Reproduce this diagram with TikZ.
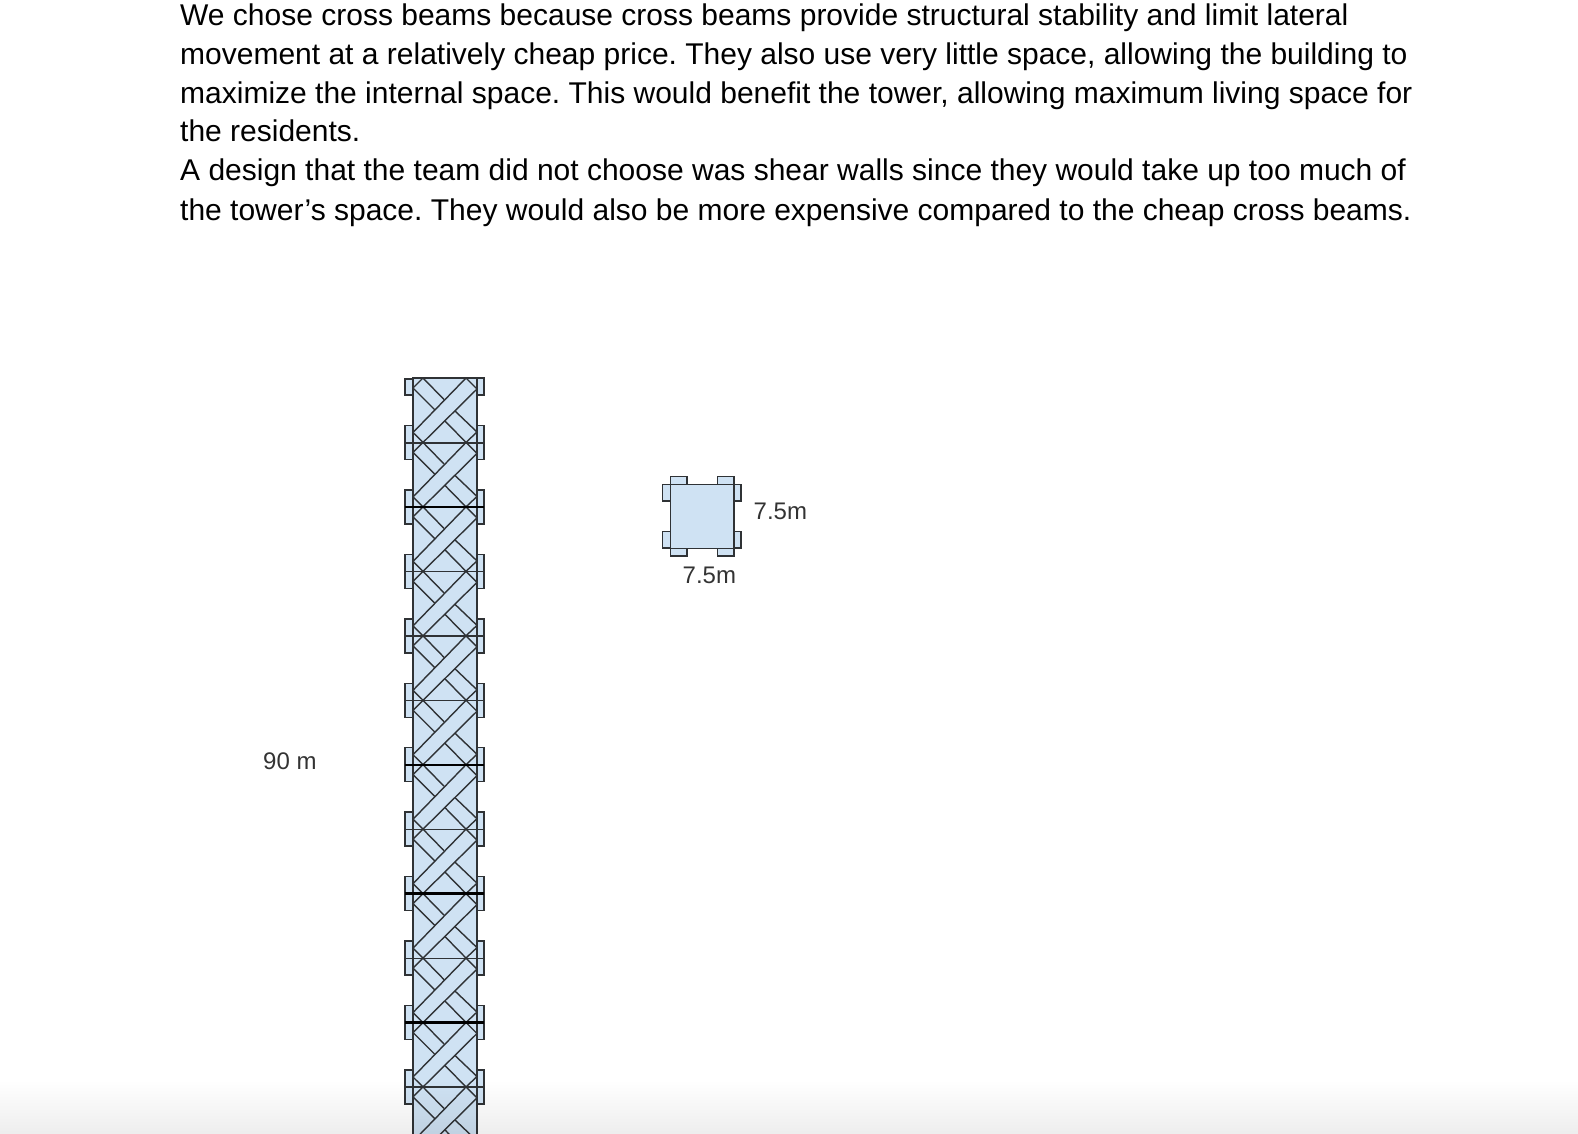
\documentclass[tikz,border=0pt]{standalone}
\usepackage{fontspec}
\setmainfont{Liberation Sans}
\usetikzlibrary{fadings}
\definecolor{panelblue}{HTML}{CFE2F3}
\definecolor{edgegrey}{HTML}{2F3235}
\definecolor{labelgrey}{HTML}{333333}
\tikzset{
    body/.style={font=\fontsize{30}{36}\selectfont\frenchspacing, anchor=base west, inner sep=0pt},
    dimlabel/.style={font=\fontsize{24}{28}\selectfont, text=labelgrey, anchor=base west, inner sep=0pt},
    plate/.style={fill=panelblue, draw=edgegrey, line width=1.4pt},
    brace/.style={draw=edgegrey, line width=1.4pt},
    beam/.style={draw=edgegrey, line width=1.6pt},
    heavybeam/.style={draw=black, line width=2.4pt}
}
\begin{document}
\begin{tikzpicture}[x=1pt, y=-1pt]
    \clip (0, 0) rectangle (1578, 1134);

    % Paragraphs
    \node[body] (lineA) at (180, 26) {We chose cross beams because cross beams provide structural stability and limit lateral};
    \node[body] (lineB) at (180, 65) {movement at a relatively cheap price. They also use very little space, allowing the building to};
    \node[body] (lineC) at (180, 104) {maximize the internal space. This would benefit the tower, allowing maximum living space for};
    \node[body] (lineD) at (180, 142) {the residents.};
    \node[body] (lineE) at (180, 181) {A design that the team did not choose was shear walls since they would take up too much of};
    \node[body] (lineF) at (180, 220) {the tower’s space. They would also be more expensive compared to the cheap cross beams.};

    % Tower
    \fill[panelblue] (413, 378) rectangle (477, 1140);
    \foreach \i in {0,...,11} {
        \begin{scope}[shift={(413, 378 + 64.45*\i)}]
            \draw[brace] (0, 54.5) -- (53, 0) -- (64, 11) -- (10, 64.45) -- cycle;
            \draw[brace] (22, 32) -- (0, 10) -- (10, 0) -- (31, 21.5);
            \draw[brace] (32, 43) -- (53, 64.45) -- (64, 54) -- (42, 33);
        \end{scope}
    }
    \draw[brace] (413, 1140) -- (413, 378) -- (477, 378) -- (477, 1140);

    % Plates on the floors
    \draw[plate] (405, 379) rectangle (413, 395);
    \draw[plate] (477, 378) rectangle (484, 395);
    \foreach \i in {1,...,11} {
        \pgfmathsetmacro{\fy}{378 + 64.45*\i}
        \draw[plate] (405, \fy - 17) rectangle (413, \fy + 17);
        \draw[plate] (477, \fy - 17) rectangle (484, \fy + 17);
        \draw[beam] (405, \fy + 0.3) -- (484, \fy + 0.3);
    }
    \foreach \i in {2,6,8,10} {
        \pgfmathsetmacro{\fy}{378 + 64.45*\i}
        \draw[heavybeam] (405, \fy) -- (484, \fy);
    }
    \node[dimlabel] (heightlabel) at (263, 769) {90 m};

    % Floor plan
    \foreach \x in {670.7, 717.5} {
        \draw[plate] (\x, 476.7) rectangle ++(16.3, 7.6);
        \draw[plate] (\x, 548.3) rectangle ++(16.3, 7.7);
    }
    \foreach \y in {484.3, 531.5} {
        \draw[plate] (662.7, \y) rectangle ++(8, 16.5);
        \draw[plate] (734, \y) rectangle ++(7, 16.5);
    }
    \draw[plate] (670.7, 484.3) rectangle (734, 548.3);
    \node[dimlabel] (sidelabel) at (753.5, 519.5) {7.5m};
    \node[dimlabel] (baselabel) at (682.5, 583.5) {7.5m};

    % Window edge at the bottom
    \fill[black, opacity=0.07, path fading=north] (0, 1080) rectangle (1600, 1135);
\end{tikzpicture}
\end{document}
